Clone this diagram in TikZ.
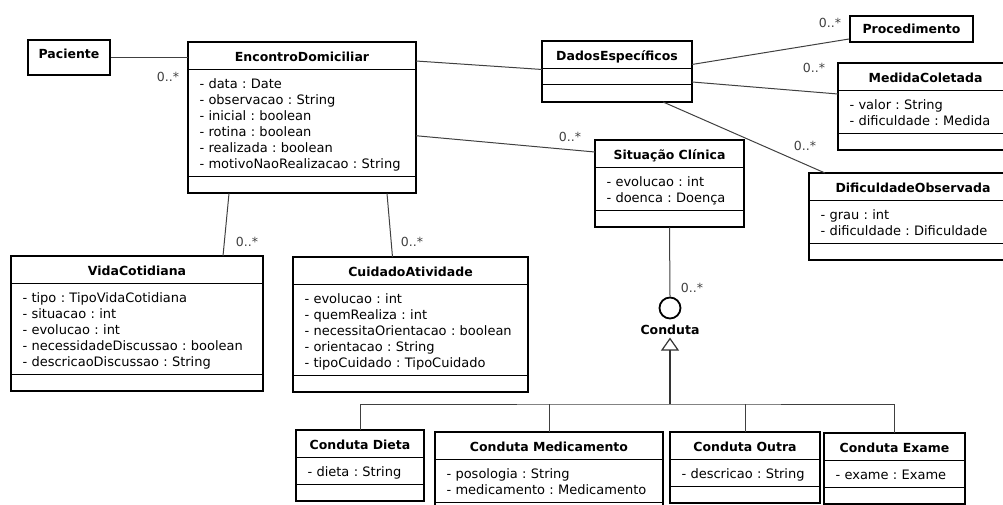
\documentclass[tikz,border=0pt]{standalone}
\usepackage{fontspec}
\setmainfont{DejaVu Sans}
\usepackage{tikz}
\usetikzlibrary{arrows.meta,positioning,shapes.multipart}
\frenchspacing

\newcommand{\umlstrut}{\rule[-3pt]{0pt}{16pt}}

\tikzset{
  umlclass/.style={rectangle split, rectangle split parts=3, draw, line width=1pt,
    anchor=north west, inner xsep=11pt, inner ysep=5pt, align=left,
    font=\fontsize{13}{16}\selectfont,
    every text node part/.style={font=\fontsize{12.5}{16}\selectfont\bfseries, align=center}},
  plainclass/.style={draw, line width=2pt, anchor=north west, inner sep=0pt,
    font=\fontsize{12.5}{16}\selectfont\bfseries},
  iface/.style={circle, draw, line width=1.8pt, minimum size=21pt, inner sep=0pt},
  mult/.style={font=\fontsize{12.5}{16}\selectfont, text=black!75, inner sep=0pt},
  assoc/.style={draw=black!75, line width=1pt},
  tree/.style={draw=black!75, line width=1pt},
  gen/.style={draw=black!80, line width=1.5pt, -{Triangle[open, length=13pt, width=18pt, line width=1.2pt]}}
}

\begin{document}
\begin{tikzpicture}[x=1pt, y=-1pt]
  \path[use as bounding box, clip] (0,0) rectangle (1003,504);

  % classes
  \node[plainclass, minimum width=82pt, minimum height=35pt, text height=18pt, text depth=17pt]
    (pac) at (27,39) {Paciente};
  \node[plainclass, minimum width=123pt, minimum height=26pt, text height=17.5pt, text depth=8.5pt]
    (proc) at (849,15) {Procedimento};

  \node[umlclass, text width=205pt] (enc) at (188,42)
    {EncontroDomiciliar\umlstrut
     \nodepart{two}\umlstrut- data : Date\\- observacao : String\\- inicial : boolean\\- rotina : boolean\\- realizada : boolean\\- motivoNaoRealizacao : String\umlstrut};
  \node[umlclass, text width=127pt] (dados) at (542,41)
    {DadosEspecíficos\umlstrut};
  \node[umlclass, text width=152pt] (med) at (838,63)
    {MedidaColetada\umlstrut
     \nodepart{two}\umlstrut- valor : String\\- dificuldade : Medida\umlstrut};
  \node[umlclass, text width=126pt] (sit) at (595,140)
    {Situação Clínica\umlstrut
     \nodepart{two}\umlstrut- evolucao : int\\- doenca : Doença\umlstrut};
  \node[umlclass, text width=185pt] (dif) at (809,173)
    {DificuldadeObservada\umlstrut
     \nodepart{two}\umlstrut- grau : int\\- dificuldade : Dificuldade\umlstrut};
  \node[umlclass, text width=229pt] (vida) at (11,256)
    {VidaCotidiana\umlstrut
     \nodepart{two}\umlstrut- tipo : TipoVidaCotidiana\\- situacao : int\\- evolucao : int\\- necessidadeDiscussao : boolean\\- descricaoDiscussao : String\umlstrut};
  \node[umlclass, text width=212pt] (cui) at (293,257)
    {CuidadoAtividade\umlstrut
     \nodepart{two}\umlstrut- evolucao : int\\- quemRealiza : int\\- necessitaOrientacao : boolean\\- orientacao : String\\- tipoCuidado : TipoCuidado\umlstrut};

  \node[umlclass, text width=105pt] (dieta) at (296,430)
    {Conduta Dieta\umlstrut
     \nodepart{two}\umlstrut- dieta : String\umlstrut};
  \node[umlclass, text width=205pt] (medic) at (435,432)
    {Conduta Medicamento\umlstrut
     \nodepart{two}\umlstrut- posologia : String\\- medicamento : Medicamento\umlstrut};
  \node[umlclass, text width=127pt] (outra) at (670,432)
    {Conduta Outra\umlstrut
     \nodepart{two}\umlstrut- descricao : String\umlstrut};
  \node[umlclass, text width=118pt] (exame) at (824,433)
    {Conduta Exame\umlstrut
     \nodepart{two}\umlstrut- exame : Exame\umlstrut};

  \foreach \n in {enc,dados,med,sit,dif,vida,cui,dieta,medic,outra,exame}
    \draw[line width=2pt] (\n.north west) rectangle (\n.south east);

  % interface Conduta
  \node[iface] (conduta) at (670,308) {};
  \node[plainclass, draw=none, anchor=north, inner ysep=1.5pt, below=3.5pt of conduta] (condlbl) {Conduta};

  % associations
  \path[assoc]
    (pac.east) edge (pac.east -| enc.west)
    ([yshift=-19pt]enc.north east) edge ([yshift=2pt]dados.west)
    ([yshift=-18pt]enc.east) edge ([yshift=-12pt]sit.north west)
    ([xshift=-73pt]enc.south) edge ([xshift=86pt]vida.north)
    ([xshift=85pt]enc.south) edge ([xshift=-18pt]cui.north)
    ([yshift=7pt]dados.east) edge ([yshift=-10pt]proc.west)
    ([yshift=-10.5pt]dados.east) edge ([yshift=-31pt]med.north west)
    ([xshift=46pt]dados.south) edge ([xshift=16pt]dif.north west)
    (sit.south) edge (conduta.north);

  % multiplicities
  \node[mult] (m1) at (168,77) {0..*};
  \node[mult] (m2) at (830,23) {0..*};
  \node[mult] (m3) at (814,68) {0..*};
  \node[mult] (m4) at (805,146) {0..*};
  \node[mult] (m5) at (570,137) {0..*};
  \node[mult] (m6) at (247,242) {0..*};
  \node[mult] (m7) at (412,242) {0..*};
  \node[mult] (m8) at (692,288) {0..*};

  % generalization
  \coordinate (bus) at (670,404);
  \draw[tree] (dieta.north) |- (bus) -| (exame.north);
  \draw[tree] (medic.north) -- (medic.north |- bus);
  \draw[tree] (outra.north) -- (outra.north |- bus);
  \draw[gen] (bus) -- (condlbl.south);
\end{tikzpicture}
\end{document}
